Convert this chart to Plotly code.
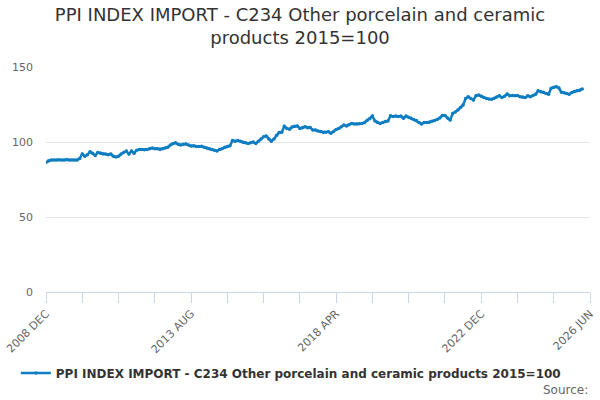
import plotly.graph_objects as go

# monthly index values, 2008 DEC onwards
values = [
    86.5, 87.5, 88, 88, 88, 88.2, 88, 88, 88.3, 88, 88, 88, 88,
    89, 92, 90.5, 91.5, 93.5, 92.5, 91, 93, 92.5, 92, 92, 91.5,
    92, 90.5, 90, 90.5, 92, 93, 94, 92, 94, 92.5, 94.5, 95,
    95, 94.8, 95, 95.5, 96, 95.5, 95.5, 95, 95.5, 96, 96.5, 98,
    99, 99.5, 98.5, 98, 98.5, 98.7, 98, 97.3, 97.5, 97, 97, 97.2,
    96.5, 96, 95.5, 95, 94.5, 94, 95, 95.5, 96.5, 97, 97.5, 101,
    100.5, 101, 100.5, 99.8, 99.5, 99, 99.5, 100, 99, 100.5, 102, 103.5,
    104, 102, 100.5, 102, 104.5, 106.4, 106.5, 110.5, 109, 108.5, 110, 110.5,
    110.7, 109, 109.5, 110.2, 109.5, 109.6, 108, 108, 107.3, 107, 106.4, 106.5,
    106.9, 105.8, 107, 108.4, 109, 110.2, 111.3, 110.7, 111.5, 112.4, 112, 112,
    112.2, 112.4, 113, 114.5, 115.5, 117.3, 114, 113, 112.4, 113, 113.6, 114,
    117.5, 117, 117.3, 117, 117.3, 115.8, 117.3, 116.5, 115.8, 115, 114.3, 113,
    112, 113, 113, 113.2, 113.8, 114.3, 115, 116, 117.6, 117.6, 116, 114.7,
    119, 120, 121.3, 123, 124.7, 129, 130.2, 129, 128, 130.9, 131.3, 130.5,
    129.6, 129, 128.7, 128.5, 129.1, 130, 130.9, 129.6, 130.5, 132, 130.9, 131,
    130.9, 131, 130.2, 130, 129.6, 130.9, 130.2, 131, 131.8, 134.2, 133.5, 133.1,
    132.4, 131.8, 135.8, 136.5, 136.9, 136, 133.1, 132.8, 132.4, 131.8, 133, 133.6,
    134.2, 134.4, 135.3,
]

tick_labels = ["2008 DEC", "2013 AUG", "2018 APR", "2022 DEC", "2026 JUN"]
label_months = [0, 56, 112, 168, 210]

series_name = "PPI INDEX IMPORT - C234 Other porcelain and ceramic products 2015=100"

months = list(range(len(values)))
tickvals = list(range(0, 211, 14))
ticktext = [tick_labels[label_months.index(t)] if t in label_months else "" for t in tickvals]

fig = go.Figure()
fig.add_trace(go.Scatter(
    x=months, y=values, mode="lines+markers", name=series_name,
    line=dict(color="#0f7dc2", width=2.5),
    marker=dict(color="#0f7dc2", size=3.5),
))

fig.update_layout(
    width=600, height=400,
    paper_bgcolor="white", plot_bgcolor="white",
    margin=dict(l=46, r=10, t=67, b=108),
    font=dict(family="DejaVu Sans", color="#666666"),
    title=dict(
        text="PPI INDEX IMPORT - C234 Other porcelain and ceramic<br>products 2015=100",
        x=0.5, xanchor="center", y=0.948, yanchor="top",
        font=dict(size=18, color="#333333"),
    ),
    showlegend=True,
    legend=dict(
        orientation="h", x=0.45, xanchor="center",
        y=-0.36, yanchor="middle",
        font=dict(size=12, color="#333333", weight="bold"),
        itemwidth=30,
    ),
    xaxis=dict(
        range=[0, 210], tickvals=tickvals, ticktext=ticktext, tickangle=-45,
        showgrid=False, zeroline=False, automargin=False,
        showline=True, linecolor="#ccd6eb", linewidth=1,
        ticks="outside", ticklen=10, tickcolor="#ccd6eb",
        tickfont=dict(size=11, color="#666666"),
    ),
    yaxis=dict(
        range=[0, 150], tickvals=[0, 50, 100, 150],
        showgrid=True, gridcolor="#e6e6e6", zeroline=False, automargin=False,
        ticklabelstandoff=12,
        tickfont=dict(size=11, color="#666666"),
    ),
    annotations=[dict(
        text="Source:", xref="paper", yref="paper", x=1.0, y=-0.436,
        xanchor="right", yanchor="middle", showarrow=False,
        font=dict(size=12, color="#666666"),
    )],
)

fig.write_html("out.html", config={"displayModeBar": False},
               post_script="document.body.style.margin='0';")
